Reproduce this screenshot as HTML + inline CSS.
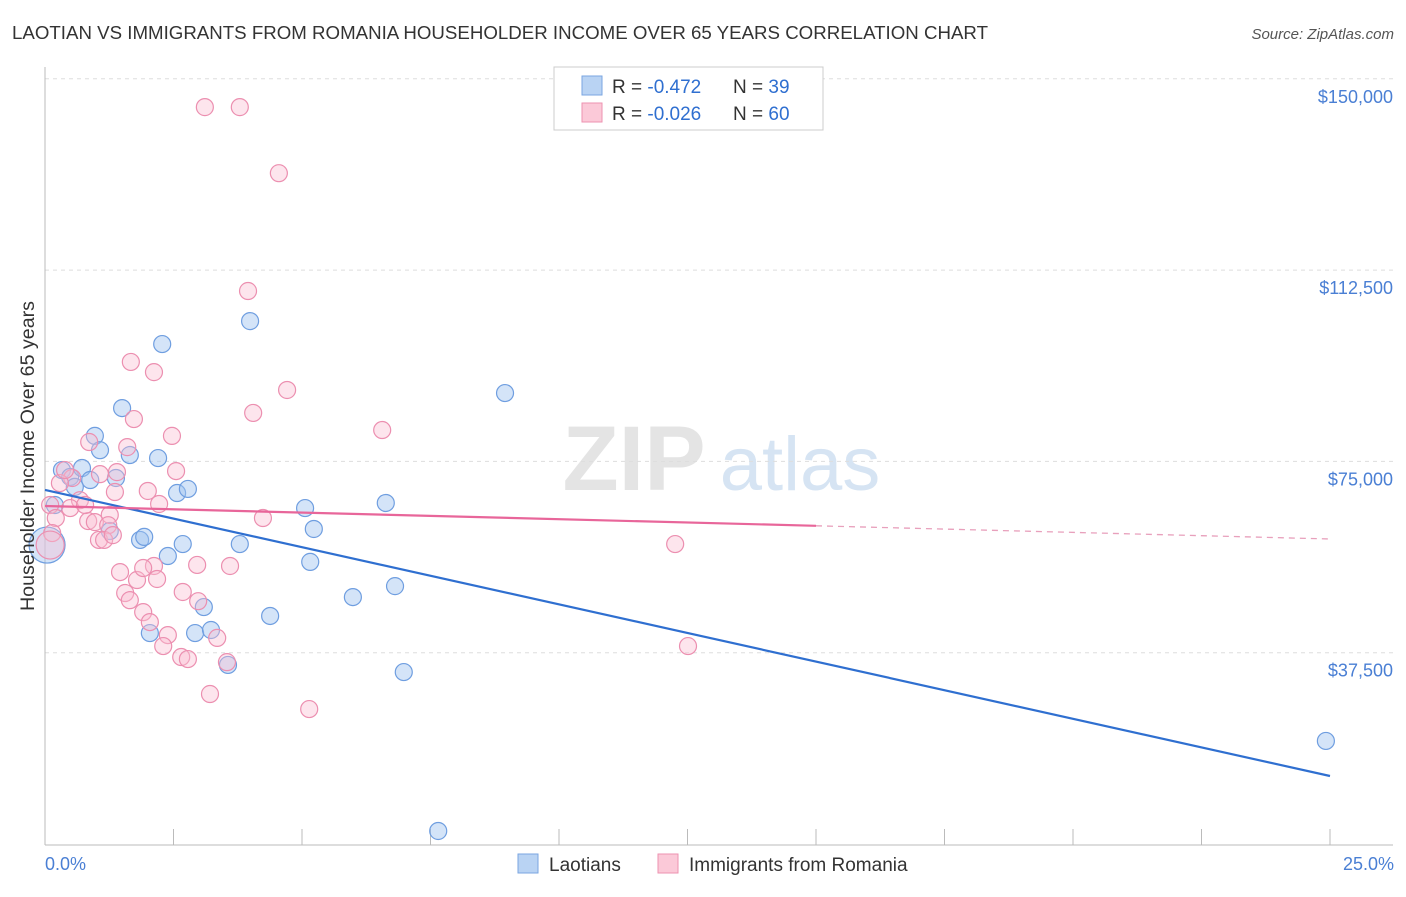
<!DOCTYPE html>
<html><head><meta charset="utf-8">
<style>
body{margin:0;background:#fff;font-family:"Liberation Sans",Arial,sans-serif;}
svg text{font-family:"Liberation Sans",Arial,sans-serif;}
</style></head>
<body>
<svg id="chart" width="1406" height="892" viewBox="0 0 1406 892">
<text x="12" y="39" font-size="18" fill="#333" textLength="976" lengthAdjust="spacingAndGlyphs">LAOTIAN VS IMMIGRANTS FROM ROMANIA HOUSEHOLDER INCOME OVER 65 YEARS CORRELATION CHART</text>
<text x="1394" y="39" font-size="15" fill="#555" font-style="italic" text-anchor="end">Source: ZipAtlas.com</text>
<g>
<text x="634" y="490" font-size="92" fill="#e4e4e4" font-family="Liberation Serif" text-anchor="middle" font-weight="bold">ZIP</text>
<text x="800" y="490" font-size="76" fill="#d6e4f3" text-anchor="middle">atlas</text>
</g>
<g id="grid"></g>
<g id="axes"></g>
<g id="points"></g>
<g id="lines"></g>
<text transform="translate(34,456) rotate(-90)" font-size="19" fill="#333" text-anchor="middle" textLength="310" lengthAdjust="spacingAndGlyphs">Householder Income Over 65 years</text>
<text x="45" y="870" font-size="18" fill="#4a7fd4">0.0%</text>
<text x="1394" y="870" font-size="18" fill="#4a7fd4" text-anchor="end">25.0%</text>
<g>
<rect x="554" y="67" width="269" height="63" fill="#fff" stroke="#ccc"/>
<rect x="582" y="76" width="20" height="19" fill="#b9d3f3" stroke="#7aa6e0"/>
<rect x="582" y="103" width="20" height="19" fill="#fbc9d8" stroke="#ee92b0"/>
<text x="612" y="93" font-size="19" fill="#333">R = <tspan fill="#2f6fd0">-0.472</tspan></text>
<text x="733" y="93" font-size="19" fill="#333">N = <tspan fill="#2f6fd0">39</tspan></text>
<text x="612" y="120" font-size="19" fill="#333">R = <tspan fill="#2f6fd0">-0.026</tspan></text>
<text x="733" y="120" font-size="19" fill="#333">N = <tspan fill="#2f6fd0">60</tspan></text>
</g>
<g>
<rect x="518" y="854" width="20" height="19" fill="#b9d3f3" stroke="#7aa6e0"/>
<text x="549" y="871" font-size="19" fill="#333">Laotians</text>
<rect x="658" y="854" width="20" height="19" fill="#fbc9d8" stroke="#ee92b0"/>
<text x="689" y="871" font-size="19" fill="#333">Immigrants from Romania</text>
</g>
</svg>
<script>
const yTicks=[37500,75000,112500,150000];
const yTickLabels=["$37,500","$75,000","$112,500","$150,000"];
const blueX=[0.04,0.19,0.33,0.49,0.58,0.72,0.97,1.07,0.88,1.38,1.26,1.50,1.65,1.85,1.93,2.28,2.20,2.04,2.39,2.57,2.68,2.78,2.92,3.09,3.23,3.56,3.79,3.99,4.38,5.06,5.16,5.23,5.99,6.63,6.81,6.98,7.65,8.95,24.92];
const blueY=[58600,66450,73300,71950,70000,73700,80000,77200,71350,71750,61350,85450,76250,59600,60200,98000,75650,41350,56450,68800,58800,69600,41350,46450,41950,35100,58800,102500,44700,65850,55300,61750,48400,66850,50550,33700,2550,88400,20200];
const pinkX=[3.11,3.79,4.55,3.95,1.67,2.12,4.71,4.05,1.73,6.56,2.47,0.86,1.60,2.55,1.40,1.07,0.53,0.29,2.00,1.36,0.68,2.22,0.10,0.49,1.26,0.21,4.24,0.84,0.97,1.23,0.14,1.05,1.15,12.26,2.96,3.60,1.46,2.12,2.18,1.79,1.56,2.68,2.98,1.91,2.04,2.39,3.35,2.30,2.65,2.78,12.51,3.54,3.21,5.14,0.10,0.39,0.78,1.32,1.91,1.65];
const pinkY=[144450,144450,131500,108400,94500,92500,89000,84500,83300,81150,80000,78800,77800,73100,72900,72500,71750,70750,69200,69000,67400,66650,66450,65850,64500,63900,63900,63300,63100,62500,60950,59600,59600,58800,54700,54500,53300,54500,51950,51750,49200,49400,47600,45450,43500,40950,40400,38800,36650,36250,38800,35650,29400,26450,58600,73300,66450,60550,54100,47800];
const blueTrend=[69400,13330];
const pinkTrend=[66260,59790];
const NS="http://www.w3.org/2000/svg";
const X0=45,X1=1330,Y0=844,PXPER=191.3/37500;
function sx(v){return X0+(v/25)*(X1-X0);}
function sy(v){return Y0-v*PXPER;}
function mk(t,a,p){const e=document.createElementNS(NS,t);for(const k in a)e.setAttribute(k,a[k]);p.appendChild(e);return e;}
const grid=document.getElementById('grid'),axes=document.getElementById('axes'),pts=document.getElementById('points'),lines=document.getElementById('lines');
yTicks.forEach((v,i)=>{
 const l=mk('line',{x1:X0,x2:1393,y1:sy(v),y2:sy(v),stroke:'#ddd','stroke-dasharray':'4,4'},grid);
 
 
 const t=mk('text',{x:1393,y:sy(v)+24,'font-size':18,fill:'#4a7fd4','text-anchor':'end'},grid);
 t.textContent=yTickLabels[i];
 
 
});
const ax=mk('line',{x1:X0,x2:X0,y1:67,y2:845,stroke:'#bbb'},axes);


const bx=mk('line',{x1:X0,x2:1393,y1:845,y2:845,stroke:'#bbb'},axes);


for(let i=0;i<=10;i++){
 const tk=mk('line',{x1:sx(i*2.5),x2:sx(i*2.5),y1:829,y2:845,stroke:'#bbb'},axes);
 
 
}
blueX.forEach((x,i)=>{
 const r=i===0?18:8.5;
 const c=mk('circle',{cx:sx(x),cy:sy(blueY[i]),r:r,fill:'rgba(160,195,240,0.45)',stroke:'#6f9ee0','stroke-width':1.2},pts);
 
 
});
pinkX.forEach((x,i)=>{
 const r=i===54?14:8.5;
 const c=mk('circle',{cx:sx(x),cy:sy(pinkY[i]),r:r,fill:'rgba(250,190,210,0.4)',stroke:'#ec8fb0','stroke-width':1.2},pts);
 
 
});
const bl=mk('line',{x1:sx(0),y1:sy(blueTrend[0]),x2:sx(25),y2:sy(blueTrend[1]),stroke:'#2f6fd0','stroke-width':2.2},lines);


const pm=pinkTrend[0]+(pinkTrend[1]-pinkTrend[0])*(15/25);
const pl=mk('line',{x1:sx(0),y1:sy(pinkTrend[0]),x2:sx(15),y2:sy(pm),stroke:'#e8669a','stroke-width':2.2},lines);


const pd=mk('line',{x1:sx(15),y1:sy(pm),x2:sx(25),y2:sy(pinkTrend[1]),stroke:'#e8a0bc','stroke-width':1.3,'stroke-dasharray':'6,5'},lines);


</script>
</body></html>
